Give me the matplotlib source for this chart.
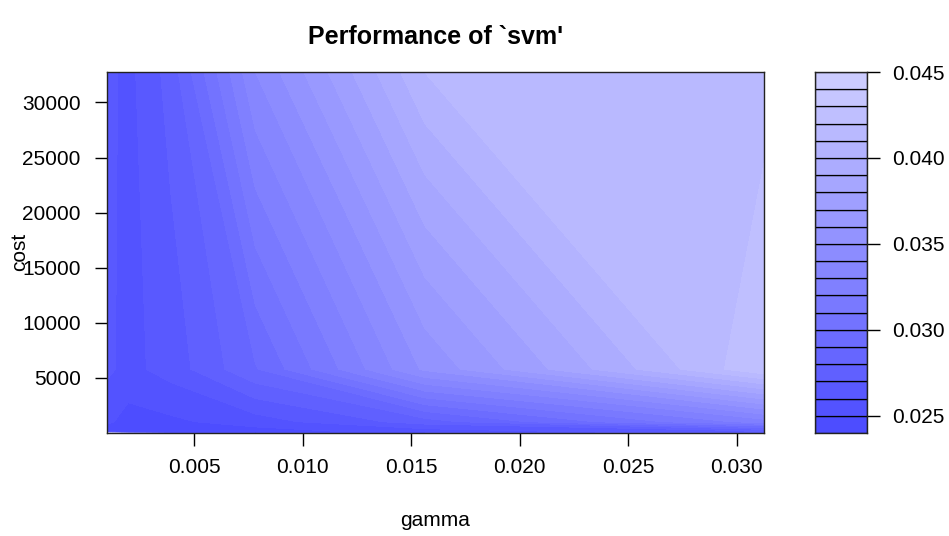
import numpy as np
import matplotlib
matplotlib.use("Agg")
import matplotlib.pyplot as plt
from matplotlib.colors import hsv_to_rgb

# tuning grid
gamma = [2**-10, 2**-9, 2**-8, 2**-7, 2**-6, 2**-5]
cost = [2**0, 2**2.5, 2**5, 2**7.5, 2**10, 2**12.5, 2**15]

# cross-validated error, one list per cost value (columns follow gamma)
err_cost_1 = [0.0448, 0.0330, 0.0260, 0.0250, 0.0260, 0.0280]
err_cost_6 = [0.0300, 0.0270, 0.0245, 0.0245, 0.0255, 0.0275]
err_cost_32 = [0.0260, 0.0250, 0.0243, 0.0244, 0.0252, 0.0272]
err_cost_181 = [0.0245, 0.0242, 0.0243, 0.0246, 0.0255, 0.0270]
err_cost_1024 = [0.0252, 0.0246, 0.0248, 0.0255, 0.0275, 0.0325]
err_cost_5793 = [0.0262, 0.0257, 0.0264, 0.0289, 0.0352, 0.0429]
err_cost_32768 = [0.0263, 0.0257, 0.0274, 0.0340, 0.04101, 0.0416]

x_ticks = [0.005, 0.010, 0.015, 0.020, 0.025, 0.030]
y_ticks = [5000, 10000, 15000, 20000, 25000, 30000]
key_ticks = [0.025, 0.030, 0.035, 0.040, 0.045]

err = np.array([err_cost_1, err_cost_6, err_cost_32, err_cost_181,
                err_cost_1024, err_cost_5793, err_cost_32768])

# levels like pretty(range(z), 20): step 0.001
lo = np.floor(err.min() * 1000)
hi = np.ceil(err.max() * 1000)
levels = np.arange(lo, hi + 1) / 1000.0
n = len(levels) - 1
sat = np.linspace(0.7, 0.2, n)
colors = hsv_to_rgb(np.column_stack([np.full(n, 2 / 3), sat, np.ones(n)]))

plt.rcParams['font.family'] = ['Liberation Sans', 'DejaVu Sans']

fig = plt.figure(figsize=(9.49, 5.36), dpi=100)
W, H = 949.0, 536.0
ax = fig.add_axes([107 / W, 1 - 433 / H, 657 / W, 361 / H])
cax = fig.add_axes([815 / W, 1 - 433 / H, 52 / W, 361 / H])

ax.contourf(gamma, cost, err, levels=levels, colors=colors)
ax.set_xlim(gamma[0], gamma[-1])
ax.set_ylim(cost[0], cost[-1])
ax.set_xticks(x_ticks)
ax.set_xticklabels(["%.3f" % v for v in x_ticks])
ax.set_yticks(y_ticks)
ax.set_yticklabels([str(v) for v in y_ticks])
ax.tick_params(axis='x', direction='out', length=9, width=1, labelsize=15, pad=9)
ax.tick_params(axis='y', direction='out', length=9, width=1, labelsize=15, pad=10)
for s in ax.spines.values():
    s.set_linewidth(1.0)
    s.set_color('#222222')

# colour key
cax.bar(0.5, np.diff(levels), bottom=levels[:-1], width=1.0, color=colors,
        edgecolor='black', linewidth=0.9)
cax.set_xlim(0, 1)
cax.set_ylim(levels[0], levels[-1])
cax.set_xticks([])
cax.yaxis.tick_right()
cax.set_yticks(key_ticks)
cax.set_yticklabels(["%.3f" % v for v in key_ticks])
cax.tick_params(axis='y', direction='out', length=9, width=1, labelsize=15, pad=9)
for s in cax.spines.values():
    s.set_linewidth(1.0)
    s.set_color('#222222')

cx = (107 + 764) / 2 / W
fig.text(cx, 1 - 37 / H, "Performance of `svm'", ha='center', va='center',
         fontsize=18, fontweight='bold')
fig.text(cx, 1 - 521 / H, "gamma", ha='center', va='center', fontsize=15)
fig.text(20 / W, 1 - 252 / H, "cost", ha='center', va='center', fontsize=15,
         rotation=90)

fig.savefig("out.png", dpi=100)
